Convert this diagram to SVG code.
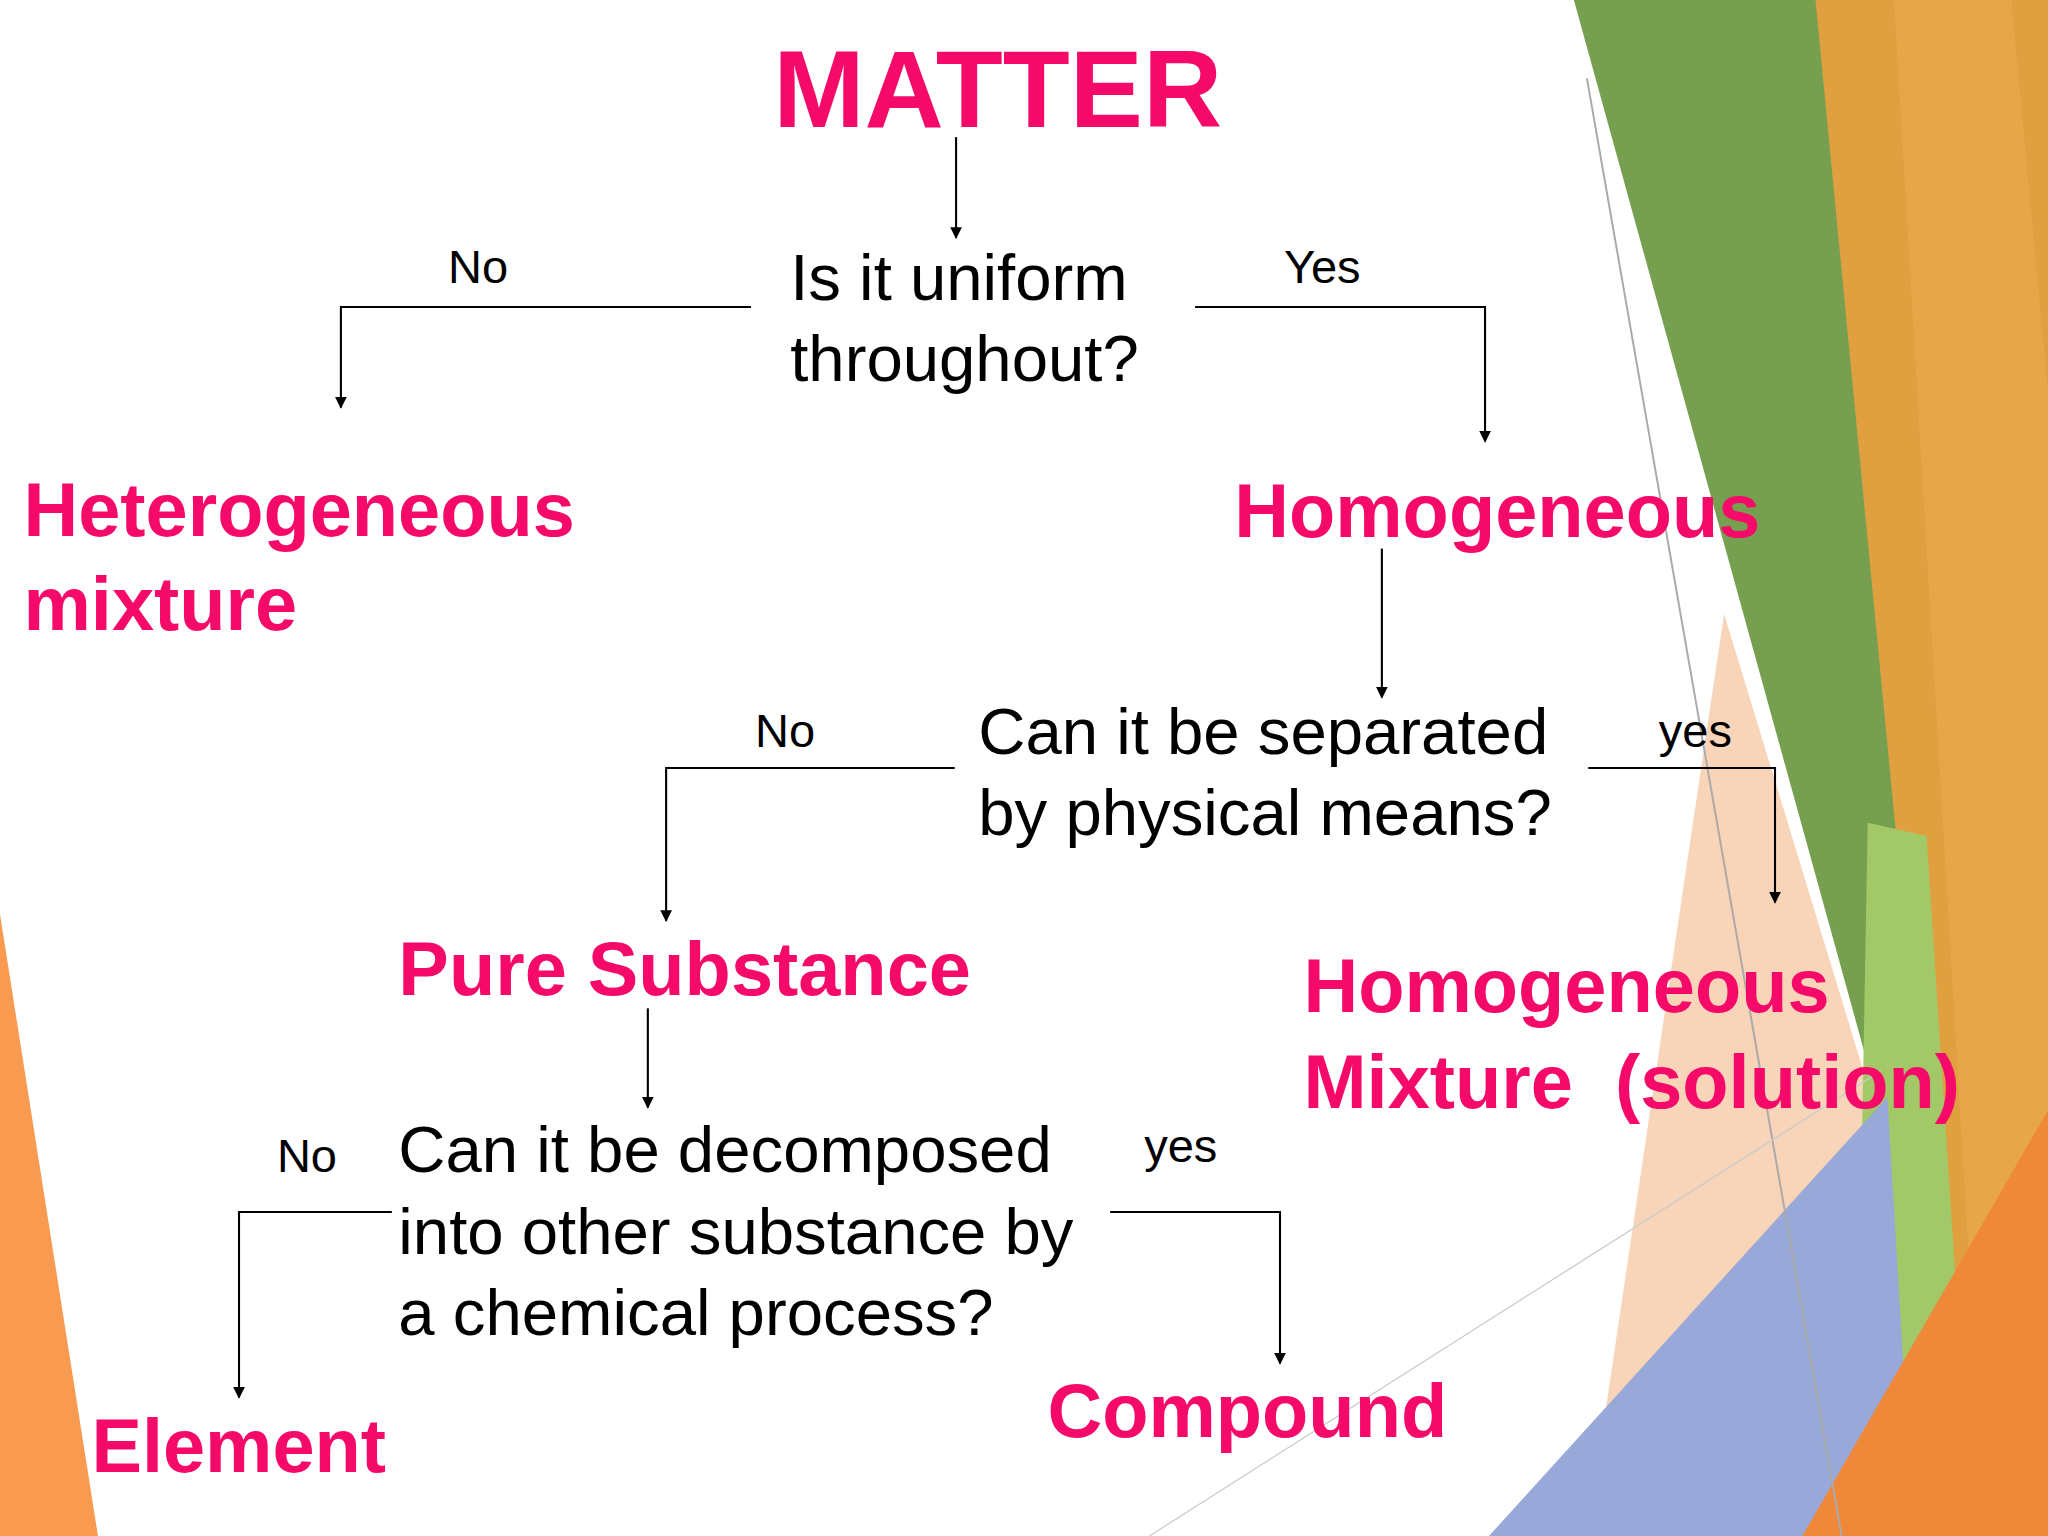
<svg xmlns="http://www.w3.org/2000/svg" width="2048" height="1536" viewBox="0 0 2048 1536">
<style>
.h{font-family:"Liberation Sans",Arial,sans-serif;font-weight:bold;fill:#F50A6A;font-size:58px}
.q{font-family:"Liberation Sans",Arial,sans-serif;fill:#000;font-size:50px}
.l{font-family:"Liberation Sans",Arial,sans-serif;fill:#000;font-size:36px}
.c{fill:none;stroke:#000;stroke-width:1.6}
</style>
<defs><marker id="a" viewBox="0 0 10 10" refX="9" refY="5" markerWidth="9" markerHeight="9" markerUnits="userSpaceOnUse" orient="auto"><path d="M0,0L10,5L0,10z" fill="#000"/></marker></defs>
<rect width="2048" height="1536" fill="#fff"/>
<g transform="scale(1.30612)">
<g id="decor">
<polygon points="1385,0 1568,0 1568,1176 1500,1176" fill="#E0A040"/>
<polygon points="1450,0 1540,0 1568,300 1568,1176 1520,1176" fill="#E8A848" opacity="0.8"/>
<polygon points="1320,470 1445,880 1400,1176 1215,1176" fill="#F8D4B8"/>
<polygon points="1205,0 1390,0 1475,880 1448,880" fill="#76A050"/>
<polygon points="1430,630 1475,640 1510,1176 1420,1176" fill="#A2C868"/>
<polygon points="1140,1176 1445,840 1465,1176" fill="#98A8D8"/>
<polygon points="1380,1176 1568,850 1568,1176" fill="#F0883A"/>
<polygon points="0,700 75,1176 0,1176" fill="#F89A50"/>
<line x1="1215" y1="60" x2="1410" y2="1176" stroke="#aaa" stroke-width="1.5"/>
<line x1="880" y1="1176" x2="1440" y2="820" stroke="#ccc" stroke-width="1"/>
</g>
<g id="connectors" class="c">
<path d="M732,105V182" marker-end="url(#a)"/>
<path d="M575,235H261V312" marker-end="url(#a)"/>
<path d="M915,235H1137V338" marker-end="url(#a)"/>
<path d="M1058,420V534" marker-end="url(#a)"/>
<path d="M731,588H510V705" marker-end="url(#a)"/>
<path d="M1216,588H1359V691" marker-end="url(#a)"/>
<path d="M496,772V848" marker-end="url(#a)"/>
<path d="M300,928H183V1070" marker-end="url(#a)"/>
<path d="M850,928H980V1044" marker-end="url(#a)"/>
</g>
<g id="matter"><text class="h" x="592" y="97" style="font-size:84px">MATTER</text></g>
<g id="q1"><text class="q" x="605" y="230">Is it uniform</text><text class="q" x="605" y="292">throughout?</text></g>
<g id="hetero"><text class="h" x="18" y="410">Heterogeneous</text><text class="h" x="18" y="482">mixture</text></g>
<g id="homo"><text class="h" x="945" y="411">Homogeneous</text></g>
<g id="q2"><text class="q" x="749" y="577">Can it be separated</text><text class="q" x="749" y="639">by physical means?</text></g>
<g id="pure"><text class="h" x="305" y="762">Pure Substance</text></g>
<g id="homomix"><text class="h" x="998" y="775">Homogeneous</text><text class="h" x="998" y="848" xml:space="preserve">Mixture  (solution)</text></g>
<g id="q3"><text class="q" x="305" y="897">Can it be decomposed</text><text class="q" x="305" y="960">into other substance by</text><text class="q" x="305" y="1022">a chemical process?</text></g>
<g id="element"><text class="h" x="70" y="1127">Element</text></g>
<g id="compound"><text class="h" x="802" y="1100">Compound</text></g>
<g id="labels">
<text class="l" x="343" y="217">No</text><text class="l" x="983" y="217">Yes</text>
<text class="l" x="578" y="572">No</text><text class="l" x="1270" y="572">yes</text>
<text class="l" x="212" y="897">No</text><text class="l" x="876" y="890">yes</text>
</g>
</g>
</svg>
